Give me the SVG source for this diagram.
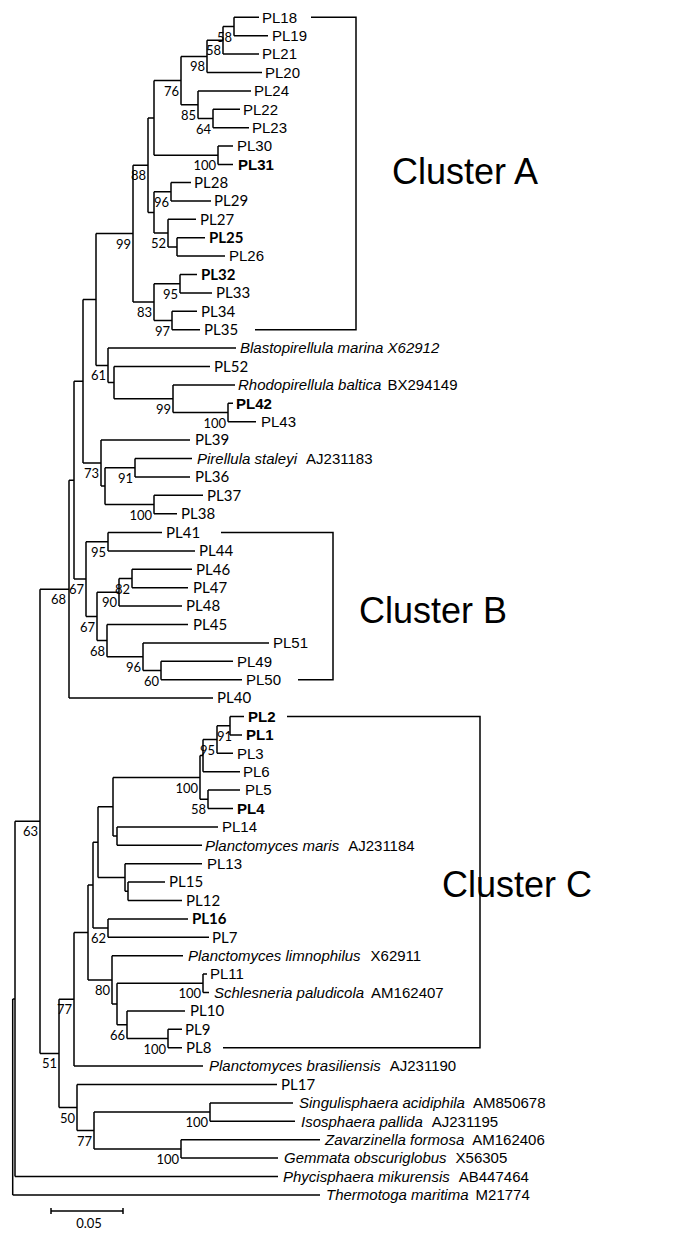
<svg xmlns="http://www.w3.org/2000/svg" width="689" height="1241" viewBox="0 0 689 1241">
<style>
.a{font-family:"Liberation Sans",Arial,sans-serif;font-size:15px;fill:#000}
.m{font-family:Lato,"Liberation Sans",sans-serif;font-size:15px;fill:#000}
.b{font-weight:bold}
.i{font-family:"Liberation Sans",Arial,sans-serif;font-size:15px;font-style:italic;fill:#000}
.n{font-style:normal}
.bs{font-family:Lato,"Liberation Sans",sans-serif;font-size:13px;text-anchor:end;fill:#000}
.cl{font-family:"Liberation Sans",Arial,sans-serif;font-size:36px;fill:#000}
.ln{fill:none;stroke:#000;stroke-width:1.5}
</style>
<rect width="689" height="1241" fill="#fff"/>
<g id="connectors" class="ln">
<path d="M234,17.3V35.7M234,17.3H259M234,35.7H268
M223,26.5V54.1M223,26.5H234M223,54.1H259
M207,40.3V72.5M207,40.3H223M207,72.5H262
M213,109.3V127.7M213,109.3H240M213,127.7H249
M198,90.9V118.5M198,90.9H251M198,118.5H213
M181,56.4V104.7M181,56.4H207M181,104.7H198
M218,146.1V164.5M218,146.1H233M218,164.5H233
M154,80.5V155.3M154,80.5H181M154,155.3H218
M171,182.5V200.9M171,182.5H191M171,200.9H211
M177,237.7V256.1M177,237.7H205M177,256.1H225
M168,219.3V246.9M168,219.3H196M168,246.9H177
M154,191.7V233.1M154,191.7H171M154,233.1H168
M148,117.9V212.4M148,117.9H154M148,212.4H154
M180,274.5V292.9M180,274.5H197M180,292.9H212
M172,311.3V329.7M172,311.3H197M172,329.7H200
M154,283.7V320.5M154,283.7H180M154,320.5H172
M133,165.2V302.1M133,165.2H148M133,302.1H154
M228,403.3V421.7M228,403.3H233M228,421.7H256
M173,384.9V412.5M173,384.9H235M173,412.5H228
M114,366.5V398.7M114,366.5H210M114,398.7H173
M108,348.1V382.6M108,348.1H236M108,382.6H114
M96,233.6V365.4M96,233.6H133M96,365.4H108
M135,458.5V476.9M135,458.5H192M135,476.9H190
M154,495.3V513.7M154,495.3H203M154,513.7H177
M105,467.7V504.5M105,467.7H135M105,504.5H154
M101,440.1V486.1M101,440.1H190M101,486.1H105
M83,299.5V463.1M83,299.5H96M83,463.1H101
M108,532.5V550.9M108,532.5H162M108,550.9H195
M132,569.3V587.7M132,569.3H192M132,587.7H188
M119,578.5V606.1M119,578.5H132M119,606.1H182
M161,661.3V679.7M161,661.3H233M161,679.7H242
M143,642.9V670.5M143,642.9H269M143,670.5H161
M107,624.5V656.7M107,624.5H188M107,656.7H143
M97,592.3V640.6M97,592.3H119M97,640.6H107
M86,541.7V616.5M86,541.7H108M86,616.5H97
M74,381.3V579.1M74,381.3H83M74,579.1H86
M69,480.2V698.1M69,480.2H74M69,698.1H213
M230,716.5V734.9M230,716.5H244M230,734.9H242
M217,725.7V753.3M217,725.7H230M217,753.3H233
M203,739.5V771.7M203,739.5H217M203,771.7H240
M208,790.1V808.5M208,790.1H240M208,808.5H233
M200,755.6V799.3M200,755.6H203M200,799.3H208
M117,826.9V845.3M117,826.9H218M117,845.3H202
M113,777.5V836.1M113,777.5H200M113,836.1H117
M128,882.1V900.5M128,882.1H165M128,900.5H182
M125,863.7V891.3M125,863.7H202M125,891.3H128
M98,806.8V877.5M98,806.8H113M98,877.5H125
M108,918.9V937.3M108,918.9H188M108,937.3H209
M93,842.2V928.1M93,842.2H98M93,928.1H108
M203,974.1V992.5M203,974.1H207M203,992.5H209
M168,1029.3V1047.7M168,1029.3H182M168,1047.7H182
M127,1010.9V1038.5M127,1010.9H185M127,1038.5H168
M117,983.3V1024.7M117,983.3H203M117,1024.7H127
M112,955.7V1004M112,955.7H183M112,1004H117
M88,885.1V979.9M88,885.1H93M88,979.9H112
M74,932.5V1066.1M74,932.5H88M74,1066.1H203
M210,1102.9V1121.3M210,1102.9H293M210,1121.3H295
M181,1139.7V1158.1M181,1139.7H320M181,1158.1H278
M94,1112.1V1148.9M94,1112.1H210M94,1148.9H181
M77,1084.5V1130.5M77,1084.5H277M77,1130.5H94
M59,999.3V1107.5M59,999.3H74M59,1107.5H77
M40,589.2V1053.4M40,589.2H69M40,1053.4H59
M15,821.3V1176.5M15,821.3H40M15,1176.5H278
M12.7,998.9V1194.9M12.7,998.9H15M12.7,1194.9H320"/>
<path d="M311,17.3H356V329.7H255M221,532.5H333V679.7H298M287,716.5H480V1047.7H223"/>
<path d="M51,1211H123M51,1208V1214M123,1208V1214"/>
</g>
<g id="leaves">
<g id="L1"><text class="a" x="262" y="22.6">PL18</text></g>
<g id="L2"><text class="a" x="272" y="41">PL19</text></g>
<g id="L3"><text class="a" x="262" y="59.4">PL21</text></g>
<g id="L4"><text class="a" x="265" y="77.8">PL20</text></g>
<g id="L5"><text class="a" x="254" y="96.2">PL24</text></g>
<g id="L6"><text class="a" x="243" y="114.6">PL22</text></g>
<g id="L7"><text class="a" x="252" y="133">PL23</text></g>
<g id="L8"><text class="a" x="237" y="151.4">PL30</text></g>
<g id="L9"><text class="a b" x="238" y="169.8">PL31</text></g>
<g id="L10"><text class="m" x="194" y="187.8">PL28</text></g>
<g id="L11"><text class="m" x="214" y="206.2">PL29</text></g>
<g id="L12"><text class="m" x="200" y="224.6">PL27</text></g>
<g id="L13"><text class="m b" x="209" y="243">PL25</text></g>
<g id="L14"><text class="a" x="229" y="261.4">PL26</text></g>
<g id="L15"><text class="m b" x="201" y="279.8">PL32</text></g>
<g id="L16"><text class="m" x="216" y="298.2">PL33</text></g>
<g id="L17"><text class="m" x="201" y="316.6">PL34</text></g>
<g id="L18"><text class="m" x="204" y="335">PL35</text></g>
<g id="L19"><text class="i" x="240" y="353.4">Blastopirellula marina X62912</text></g>
<g id="L20"><text class="m" x="214" y="371.8">PL52</text></g>
<g id="L21"><text class="i" x="238" y="390.2">Rhodopirellula baltica<tspan class="n" dx="6">BX294149</tspan></text></g>
<g id="L22"><text class="a b" x="236" y="408.6">PL42</text></g>
<g id="L23"><text class="a" x="261" y="427">PL43</text></g>
<g id="L24"><text class="m" x="195" y="445.4">PL39</text></g>
<g id="L25"><text class="i" x="197" y="463.8">Pirellula staleyi<tspan class="n" dx="9">AJ231183</tspan></text></g>
<g id="L26"><text class="m" x="195" y="482.2">PL36</text></g>
<g id="L27"><text class="m" x="207" y="500.6">PL37</text></g>
<g id="L28"><text class="m" x="181" y="519">PL38</text></g>
<g id="L29"><text class="m" x="166" y="537.8">PL41</text></g>
<g id="L30"><text class="m" x="199" y="556.2">PL44</text></g>
<g id="L31"><text class="m" x="196" y="574.6">PL46</text></g>
<g id="L32"><text class="m" x="193" y="593">PL47</text></g>
<g id="L33"><text class="m" x="186" y="611.4">PL48</text></g>
<g id="L34"><text class="m" x="193" y="629.8">PL45</text></g>
<g id="L35"><text class="a" x="273" y="648.2">PL51</text></g>
<g id="L36"><text class="a" x="237" y="666.6">PL49</text></g>
<g id="L37"><text class="a" x="246" y="685">PL50</text></g>
<g id="L38"><text class="m" x="217" y="703.4">PL40</text></g>
<g id="L39"><text class="a b" x="248" y="721.8">PL2</text></g>
<g id="L40"><text class="a b" x="246" y="740.2">PL1</text></g>
<g id="L41"><text class="a" x="237" y="758.6">PL3</text></g>
<g id="L42"><text class="a" x="243" y="777">PL6</text></g>
<g id="L43"><text class="a" x="245" y="795.4">PL5</text></g>
<g id="L44"><text class="a b" x="237" y="813.8">PL4</text></g>
<g id="L45"><text class="a" x="222" y="832.2">PL14</text></g>
<g id="L46"><text class="i" x="205" y="850.6">Planctomyces maris<tspan class="n" dx="9">AJ231184</tspan></text></g>
<g id="L47"><text class="a" x="207" y="869">PL13</text></g>
<g id="L48"><text class="m" x="169" y="887.4">PL15</text></g>
<g id="L49"><text class="m" x="186" y="905.8">PL12</text></g>
<g id="L50"><text class="m b" x="192" y="924.2">PL16</text></g>
<g id="L51"><text class="m" x="212" y="942.6">PL7</text></g>
<g id="L52"><text class="i" x="188" y="961">Planctomyces limnophilus<tspan class="n" dx="10">X62911</tspan></text></g>
<g id="L53"><text class="a" x="210" y="979.4">PL11</text></g>
<g id="L54"><text class="i" x="214" y="997.8">Schlesneria paludicola<tspan class="n" dx="7">AM162407</tspan></text></g>
<g id="L55"><text class="m" x="190" y="1016.2">PL10</text></g>
<g id="L56"><text class="m" x="185" y="1034.6">PL9</text></g>
<g id="L57"><text class="m" x="186" y="1053">PL8</text></g>
<g id="L58"><text class="i" x="209" y="1071.4">Planctomyces brasiliensis<tspan class="n" dx="9">AJ231190</tspan></text></g>
<g id="L59"><text class="m" x="281" y="1089.8">PL17</text></g>
<g id="L60"><text class="i" x="299" y="1108.2">Singulisphaera acidiphila<tspan class="n" dx="8">AM850678</tspan></text></g>
<g id="L61"><text class="i" x="301" y="1126.6">Isosphaera pallida<tspan class="n" dx="9">AJ231195</tspan></text></g>
<g id="L62"><text class="i" x="325" y="1145">Zavarzinella formosa<tspan class="n" dx="8">AM162406</tspan></text></g>
<g id="L63"><text class="i" x="284" y="1163.4">Gemmata obscuriglobus<tspan class="n" dx="9">X56305</tspan></text></g>
<g id="L64"><text class="i" x="283" y="1181.8">Phycisphaera mikurensis<tspan class="n" dx="9">AB447464</tspan></text></g>
<g id="L65"><text class="i" x="326" y="1200.2">Thermotoga maritima<tspan class="n" dx="7">M21774</tspan></text></g>
</g>
<g id="bootstrap">
<g id="a1"><text class="bs" x="232" y="41.5">58</text></g>
<g id="a2"><text class="bs" x="221" y="55.3">58</text></g>
<g id="a3"><text class="bs" x="205" y="71.4">98</text></g>
<g id="a6"><text class="bs" x="179" y="95.5">76</text></g>
<g id="a5"><text class="bs" x="196" y="119.7">85</text></g>
<g id="a4"><text class="bs" x="211" y="133.5">64</text></g>
<g id="a7"><text class="bs" x="216" y="170.3">100</text></g>
<g id="a9"><text class="bs" x="146" y="180.2">88</text></g>
<g id="a10"><text class="bs" x="169" y="206.7">96</text></g>
<g id="a12"><text class="bs" x="166" y="248.1">52</text></g>
<g id="a17"><text class="bs" x="131" y="248.6">99</text></g>
<g id="a14"><text class="bs" x="178" y="298.7">95</text></g>
<g id="a16"><text class="bs" x="152" y="317.1">83</text></g>
<g id="a15"><text class="bs" x="170" y="335.5">97</text></g>
<g id="p4"><text class="bs" x="106" y="380.4">61</text></g>
<g id="p2"><text class="bs" x="171" y="413.7">99</text></g>
<g id="p1"><text class="bs" x="226" y="427.5">100</text></g>
<g id="q4"><text class="bs" x="99" y="478.1">73</text></g>
<g id="q1"><text class="bs" x="133" y="482.7">91</text></g>
<g id="q2"><text class="bs" x="152" y="519.5">100</text></g>
<g id="b1"><text class="bs" x="106" y="556.7">95</text></g>
<g id="b2"><text class="bs" x="130" y="593.5">82</text></g>
<g id="b8"><text class="bs" x="84" y="594.1">67</text></g>
<g id="r2"><text class="bs" x="66" y="604.2">68</text></g>
<g id="b3"><text class="bs" x="117" y="607.3">90</text></g>
<g id="b7"><text class="bs" x="95" y="631.5">67</text></g>
<g id="b6"><text class="bs" x="105" y="655.6">68</text></g>
<g id="b5"><text class="bs" x="141" y="671.7">96</text></g>
<g id="b4"><text class="bs" x="159" y="685.5">60</text></g>
<g id="c1"><text class="bs" x="232" y="740.7">91</text></g>
<g id="c2"><text class="bs" x="215" y="754.5">95</text></g>
<g id="c5"><text class="bs" x="198" y="792.5">100</text></g>
<g id="c4"><text class="bs" x="206" y="814.3">58</text></g>
<g id="s63"><text class="bs" x="38" y="836.3">63</text></g>
<g id="u4"><text class="bs" x="106" y="943.1">62</text></g>
<g id="u7"><text class="bs" x="110" y="994.9">80</text></g>
<g id="v1"><text class="bs" x="201" y="998.3">100</text></g>
<g id="t77"><text class="bs" x="72" y="1014.3">77</text></g>
<g id="v3"><text class="bs" x="125" y="1039.7">66</text></g>
<g id="v2"><text class="bs" x="166" y="1053.5">100</text></g>
<g id="t51"><text class="bs" x="57" y="1068.4">51</text></g>
<g id="w4"><text class="bs" x="75" y="1122.5">50</text></g>
<g id="w1"><text class="bs" x="208" y="1127.1">100</text></g>
<g id="w3"><text class="bs" x="92" y="1145.5">77</text></g>
<g id="w2"><text class="bs" x="179" y="1163.9">100</text></g>
</g>
<g id="clusterA"><text class="cl" x="392" y="184">Cluster A</text></g>
<g id="clusterB"><text class="cl" x="359" y="623">Cluster B</text></g>
<g id="clusterC"><text class="cl" x="442" y="897">Cluster C</text></g>
<g id="scale"><text class="bs" style="text-anchor:middle" x="89" y="1228">0.05</text></g>
</svg>
